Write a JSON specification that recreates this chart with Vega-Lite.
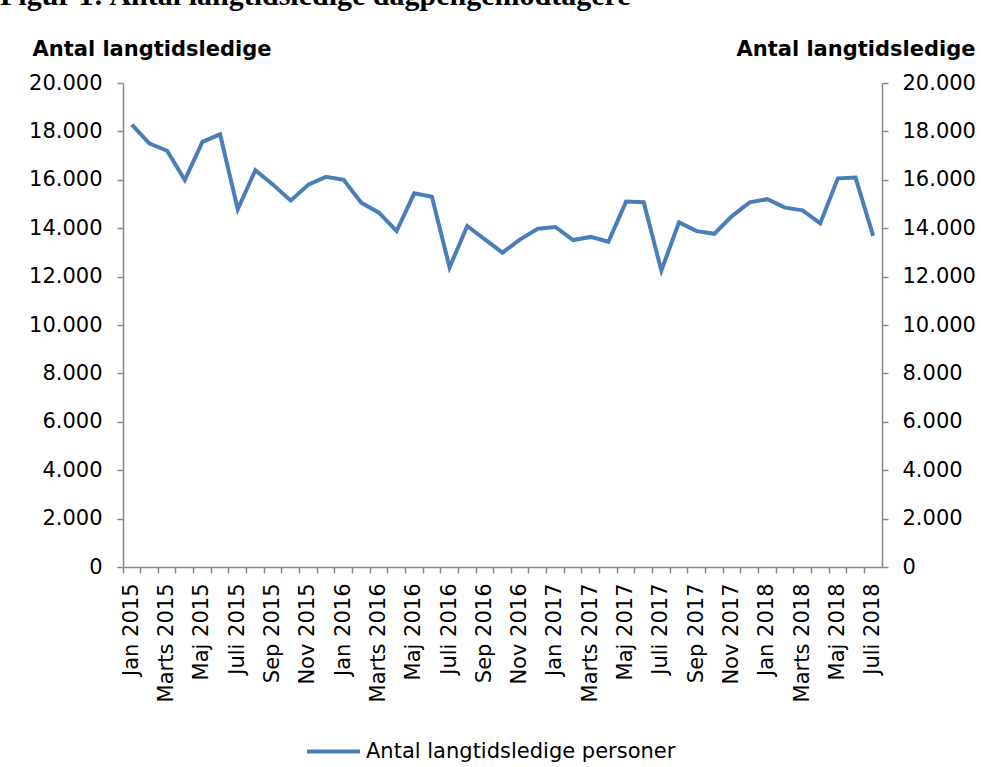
{
  "$schema": "https://vega.github.io/schema/vega-lite/v6.json",
  "autosize": {"type": "none"},
  "width": 759,
  "height": 484,
  "padding": {"left": 123, "top": 83, "right": 99, "bottom": 200},
  "background": "white",
  "title": {
    "text": "Figur 1: Antal langtidsledige dagpengemodtagere",
    "anchor": "start",
    "frame": "group",
    "font": "Liberation Serif",
    "fontSize": 30,
    "fontWeight": "bold",
    "color": "black",
    "baseline": "alphabetic",
    "dx": -123,
    "offset": 3
  },
  "data": {
    "values": [
      {"month": "Jan 2015", "value": 18280},
      {"month": "Feb 2015", "value": 17500},
      {"month": "Marts 2015", "value": 17200},
      {"month": "April 2015", "value": 15990},
      {"month": "Maj 2015", "value": 17570},
      {"month": "Juni 2015", "value": 17880},
      {"month": "Juli 2015", "value": 14780},
      {"month": "Aug 2015", "value": 16400},
      {"month": "Sep 2015", "value": 15800},
      {"month": "Okt 2015", "value": 15140},
      {"month": "Nov 2015", "value": 15800},
      {"month": "Dec 2015", "value": 16120},
      {"month": "Jan 2016", "value": 16000},
      {"month": "Feb 2016", "value": 15050},
      {"month": "Marts 2016", "value": 14640},
      {"month": "April 2016", "value": 13880},
      {"month": "Maj 2016", "value": 15440},
      {"month": "Juni 2016", "value": 15300},
      {"month": "Juli 2016", "value": 12380},
      {"month": "Aug 2016", "value": 14090},
      {"month": "Sep 2016", "value": 13540},
      {"month": "Okt 2016", "value": 12990},
      {"month": "Nov 2016", "value": 13540},
      {"month": "Dec 2016", "value": 13980},
      {"month": "Jan 2017", "value": 14050},
      {"month": "Feb 2017", "value": 13510},
      {"month": "Marts 2017", "value": 13640},
      {"month": "April 2017", "value": 13440},
      {"month": "Maj 2017", "value": 15100},
      {"month": "Juni 2017", "value": 15070},
      {"month": "Juli 2017", "value": 12250},
      {"month": "Aug 2017", "value": 14240},
      {"month": "Sep 2017", "value": 13880},
      {"month": "Okt 2017", "value": 13770},
      {"month": "Nov 2017", "value": 14500},
      {"month": "Dec 2017", "value": 15070},
      {"month": "Jan 2018", "value": 15200},
      {"month": "Feb 2018", "value": 14850},
      {"month": "Marts 2018", "value": 14740},
      {"month": "April 2018", "value": 14200},
      {"month": "Maj 2018", "value": 16060},
      {"month": "Juni 2018", "value": 16090},
      {"month": "Juli 2018", "value": 13680}
    ]
  },
  "layer": [
    {
      "mark": {"type": "line", "strokeWidth": 4, "strokeJoin": "miter"},
      "encoding": {
        "x": {
          "field": "month",
          "type": "ordinal",
          "sort": null,
          "scale": {"type": "band", "paddingInner": 0, "paddingOuter": 0},
          "axis": {
            "title": null,
            "orient": "bottom",
            "ticks": false,
            "domain": true,
            "domainColor": "#888888",
            "domainWidth": 1.5,
            "labelAngle": -90,
            "labelFont": "DejaVu Sans",
            "labelFontSize": 21,
            "labelColor": "black",
            "labelPadding": 16,
            "labelOverlap": false,
            "labelExpr": "indexof(['Jan','Marts','Maj','Juli','Sep','Nov'], split(datum.value, ' ')[0]) >= 0 ? datum.value : ''"
          }
        },
        "y": {
          "field": "value",
          "type": "quantitative",
          "scale": {"domain": [0, 20000], "nice": false},
          "axis": {
            "orient": "left",
            "values": [0, 2000, 4000, 6000, 8000, 10000, 12000, 14000, 16000, 18000, 20000],
            "grid": false,
            "domainColor": "#888888",
            "domainWidth": 1.5,
            "tickColor": "#888888",
            "tickWidth": 1.5,
            "tickSize": 6,
            "labelPadding": 15,
            "labelFont": "DejaVu Sans",
            "labelFontSize": 21,
            "labelColor": "black",
            "labelExpr": "replace(format(datum.value, ','), ',', '.')",
            "title": "Antal langtidsledige",
            "titleAngle": 0,
            "titleAlign": "left",
            "titleBaseline": "alphabetic",
            "titleX": -91,
            "titleY": -28,
            "titleFont": "DejaVu Sans",
            "titleFontSize": 21,
            "titleFontWeight": "bold",
            "titleColor": "black"
          }
        },
        "color": {
          "datum": "Antal langtidsledige personer",
          "type": "nominal",
          "scale": {"range": ["#4a7ebb"]},
          "legend": {
            "title": null,
            "orient": "none",
            "legendX": 182,
            "legendY": 640,
            "symbolType": "stroke",
            "symbolSize": 2809,
            "symbolStrokeWidth": 4,
            "labelFont": "DejaVu Sans",
            "labelFontSize": 21,
            "labelColor": "black",
            "labelLimit": 500
          }
        }
      }
    },
    {
      "mark": {"type": "line", "strokeOpacity": 0},
      "encoding": {
        "x": {
          "field": "month",
          "type": "ordinal",
          "sort": null,
          "axis": {
            "title": null,
            "orient": "bottom",
            "bandPosition": 0,
            "labels": false,
            "domain": false,
            "ticks": true,
            "tickColor": "#888888",
            "tickWidth": 1.5,
            "tickSize": 6
          }
        },
        "y": {
          "field": "value",
          "type": "quantitative",
          "axis": {
            "orient": "right",
            "values": [0, 2000, 4000, 6000, 8000, 10000, 12000, 14000, 16000, 18000, 20000],
            "grid": false,
            "domainColor": "#888888",
            "domainWidth": 1.5,
            "tickColor": "#888888",
            "tickWidth": 1.5,
            "tickSize": 6,
            "labelPadding": 14,
            "labelFont": "DejaVu Sans",
            "labelFontSize": 21,
            "labelColor": "black",
            "labelExpr": "replace(format(datum.value, ','), ',', '.')",
            "title": "Antal langtidsledige",
            "titleAngle": 0,
            "titleAlign": "right",
            "titleBaseline": "alphabetic",
            "titleX": 93,
            "titleY": -28,
            "titleFont": "DejaVu Sans",
            "titleFontSize": 21,
            "titleFontWeight": "bold",
            "titleColor": "black"
          }
        }
      }
    }
  ],
  "resolve": {"axis": {"x": "independent", "y": "independent"}},
  "config": {"view": {"stroke": null}}
}
